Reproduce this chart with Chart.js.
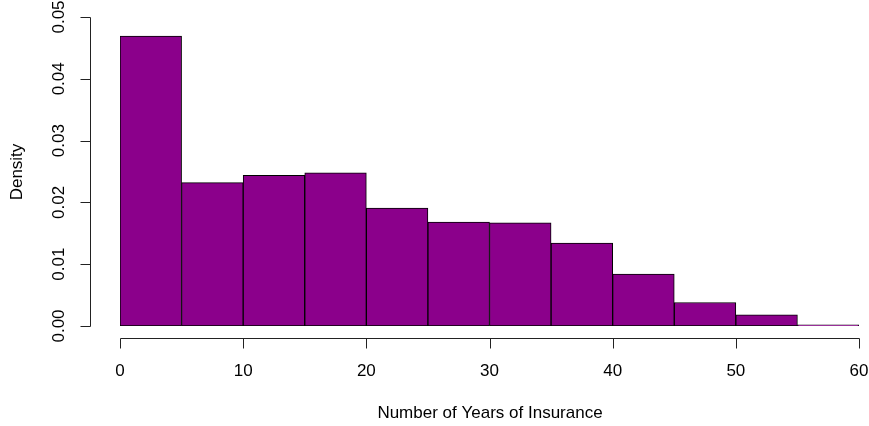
<!DOCTYPE html>
<html>
<head>
<meta charset="utf-8">
<title>Histogram</title>
<script src="https://cdn.jsdelivr.net/npm/chart.js@4"></script>
<style>
    html, body { margin: 0; padding: 0; background: #fff; }
    #wrap { width: 869px; height: 426px; }
</style>
</head>
<body>
<div id="wrap"><canvas id="histChart" width="869" height="426"></canvas></div>
<script>
// Histogram bins (years) and density per bin
const binStarts = [0, 5, 10, 15, 20, 25, 30, 35, 40, 45, 50, 55];
const binWidth = 5;
const densities = [0.0469, 0.0232, 0.0244, 0.0248, 0.0191, 0.0168, 0.0167, 0.0134, 0.0084, 0.0038, 0.0018, 0.0002];

// Axis ticks
const xTicks = [0, 10, 20, 30, 40, 50, 60];
const yTicks = [0, 0.01, 0.02, 0.03, 0.04, 0.05];
const yTickLabels = ['0.00', '0.01', '0.02', '0.03', '0.04', '0.05'];

const xTitle = 'Number of Years of Insurance';
const yTitle = 'Density';

const FONT = '17px "Liberation Sans", Arial, Helvetica, sans-serif';
const AXIS_COLOR = '#222';

// R-style axes, detached from the plot region
const rAxesPlugin = {
    id: 'rAxes',
    afterDraw(chart) {
        const ctx = chart.ctx;
        const xs = chart.scales.x;
        const ys = chart.scales.y;
        const area = chart.chartArea;
        const tickLen = 10;

        ctx.save();
        ctx.strokeStyle = AXIS_COLOR;
        ctx.fillStyle = '#000';
        ctx.lineWidth = 1;
        ctx.font = FONT;

        // y axis
        const axX = area.left - 29.5;
        const yTop = Math.round(ys.getPixelForValue(yTicks[yTicks.length - 1])) + 0.5;
        const yBot = Math.round(ys.getPixelForValue(yTicks[0])) + 0.5;
        ctx.beginPath();
        ctx.moveTo(axX, yTop);
        ctx.lineTo(axX, yBot);
        yTicks.forEach(v => {
            const py = Math.round(ys.getPixelForValue(v)) + 0.5;
            ctx.moveTo(axX, py);
            ctx.lineTo(axX - tickLen, py);
        });
        ctx.stroke();

        ctx.textAlign = 'center';
        ctx.textBaseline = 'middle';
        yTicks.forEach((v, i) => {
            const py = ys.getPixelForValue(v);
            ctx.save();
            ctx.translate(59, py);
            ctx.rotate(-Math.PI / 2);
            ctx.fillText(yTickLabels[i], 0, 0);
            ctx.restore();
        });

        // x axis
        const axY = area.bottom + 12.5;
        const xL = Math.round(xs.getPixelForValue(xTicks[0])) + 0.5;
        const xR = Math.round(xs.getPixelForValue(xTicks[xTicks.length - 1])) + 0.5;
        ctx.beginPath();
        ctx.moveTo(xL, axY);
        ctx.lineTo(xR, axY);
        xTicks.forEach(v => {
            const px = Math.round(xs.getPixelForValue(v)) + 0.5;
            ctx.moveTo(px, axY);
            ctx.lineTo(px, axY + tickLen);
        });
        ctx.stroke();

        xTicks.forEach(v => {
            ctx.fillText(String(v), xs.getPixelForValue(v), 371);
        });

        // axis titles
        ctx.fillText(xTitle, (xL + xR) / 2, 413);
        ctx.save();
        ctx.translate(17, (yTop + yBot) / 2);
        ctx.rotate(-Math.PI / 2);
        ctx.fillText(yTitle, 0, 0);
        ctx.restore();

        ctx.restore();
    }
};

const ctx = document.getElementById('histChart').getContext('2d');
new Chart(ctx, {
    type: 'bar',
    data: {
        datasets: [{
            data: binStarts.map((s, i) => ({ x: s + binWidth / 2, y: densities[i] })),
            backgroundColor: '#8B008B',
            borderColor: '#000',
            borderWidth: 1,
            borderSkipped: false,
            barPercentage: 1,
            categoryPercentage: 1
        }]
    },
    options: {
        responsive: false,
        animation: false,
        layout: {
            padding: { left: 120, right: 10, top: 17, bottom: 100 }
        },
        plugins: {
            legend: { display: false },
            tooltip: { enabled: false }
        },
        scales: {
            x: {
                type: 'linear',
                display: false,
                offset: false,
                min: 0,
                max: 60
            },
            y: {
                display: false,
                min: 0,
                max: 0.05
            }
        }
    },
    plugins: [rAxesPlugin]
});
</script>
</body>
</html>
